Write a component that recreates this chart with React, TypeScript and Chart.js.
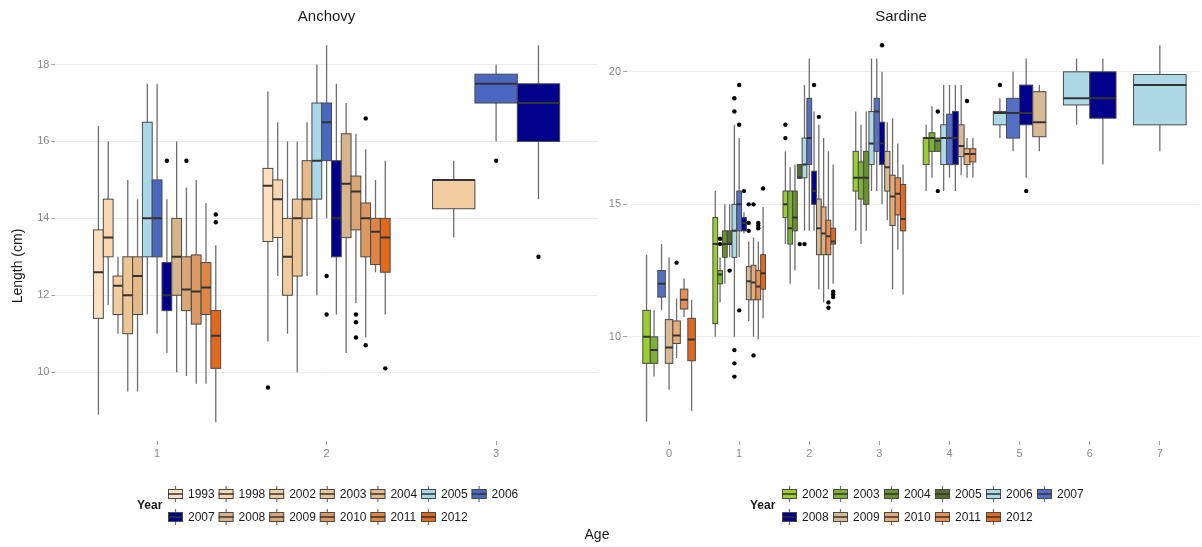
import React, { useEffect, useRef } from 'react';
import { Chart, registerables } from 'chart.js';

Chart.register(...registerables);

// [year, lower whisker, Q1, median, Q3, upper whisker]
type Row = [string, number, number, number, number, number];
// [age, year, value]
type Outlier = [number, string, number];

const FONT = '"Liberation Sans", Arial, Helvetica, sans-serif';

// ---------------- Anchovy ----------------
const anchovyYears = ['1993', '1998', '2002', '2003', '2004', '2005', '2006', '2007', '2008', '2009', '2010', '2011', '2012'];
const anchovyColors = ['#FDE0C1', '#F8D6B0', '#F3CDA0', '#EEC595', '#E6BA88', '#A9D9E9', '#4B68C1', '#00008B', '#D6B48C', '#DAA675', '#DB9963', '#DE8546', '#E0691E'];
const anchovyAgeTicks = [1, 2, 3];

const anchovyAge1: Row[] = [
  ['1993', 8.9, 11.4, 12.6, 13.7, 16.4],
  ['1998', 11.75, 13.0, 13.5, 14.5, 16.0],
  ['2002', 11.0, 11.5, 12.25, 12.5, 13.0],
  ['2003', 9.5, 11.0, 12.0, 13.0, 15.0],
  ['2004', 9.5, 11.5, 12.5, 13.0, 14.5],
  ['2005', 11.5, 13.0, 14.0, 16.5, 17.5],
  ['2006', 11.0, 13.0, 14.0, 15.0, 17.5],
  ['2007', 10.5, 11.6, 12.0, 12.85, 14.5],
  ['2008', 10.0, 12.0, 13.0, 14.0, 16.0],
  ['2009', 9.9, 11.6, 12.15, 13.0, 14.8],
  ['2010', 9.7, 11.25, 12.1, 13.05, 15.0],
  ['2011', 9.7, 11.5, 12.2, 12.85, 14.4],
  ['2012', 8.7, 10.1, 10.95, 11.6, 13.3],
];
const anchovyAge2: Row[] = [
  ['1993', 10.8, 13.4, 14.85, 15.3, 17.3],
  ['1998', 12.5, 13.5, 14.5, 15.0, 16.5],
  ['2002', 11.0, 12.0, 13.0, 14.0, 16.0],
  ['2003', 10.0, 12.5, 14.0, 14.5, 16.0],
  ['2004', 12.5, 14.0, 14.5, 15.5, 16.5],
  ['2005', 12.0, 14.5, 15.5, 17.0, 18.0],
  ['2006', 14.0, 15.5, 16.5, 17.0, 18.5],
  ['2007', 11.5, 13.0, 14.0, 15.5, 17.5],
  ['2008', 10.5, 13.5, 14.9, 16.2, 17.0],
  ['2009', 11.8, 13.7, 14.7, 15.1, 16.2],
  ['2010', 10.9, 13.0, 14.0, 14.4, 15.8],
  ['2011', 12.6, 12.8, 13.65, 14.0, 15.0],
  ['2012', 11.5, 12.6, 13.5, 14.0, 15.5],
];
const anchovyAge3: Row[] = [
  ['2002', 13.5, 14.25, 15.0, 15.0, 15.5],
  ['2006', 16.0, 17.0, 17.5, 17.75, 18.0],
  ['2007', 14.5, 16.0, 17.0, 17.5, 18.5],
];
const anchovyOutliers: Outlier[] = [
  [1, '2007', 15.5], [1, '2009', 15.5], [1, '2012', 14.1], [1, '2012', 13.9],
  [2, '1993', 9.6], [2, '2006', 12.5], [2, '2006', 11.5],
  [2, '2009', 11.5], [2, '2009', 11.3], [2, '2009', 10.9],
  [2, '2010', 16.6], [2, '2010', 10.7], [2, '2012', 10.1],
  [3, '2006', 15.5], [3, '2007', 13.0],
];

// ---------------- Sardine ----------------
const sardineYears = ['2002', '2003', '2004', '2005', '2006', '2007', '2008', '2009', '2010', '2011', '2012'];
const sardineColors = ['#9ACD32', '#7DB03A', '#6A8F2E', '#556B2F', '#ADD8E6', '#5470C6', '#00008B', '#D8BA96', '#E5AD78', '#E78F55', '#E06A22'];
const sardineAgeTicks = [0, 1, 2, 3, 4, 5, 6, 7];

const sardineAge0: Row[] = [
  ['2002', 6.8, 9.0, 10.0, 11.0, 13.1],
  ['2003', 8.5, 9.0, 9.5, 10.0, 11.0],
  ['2007', 11.0, 11.5, 12.0, 12.5, 13.5],
  ['2009', 8.0, 9.0, 9.6, 10.65, 13.0],
  ['2010', 9.2, 9.75, 10.05, 10.6, 11.45],
  ['2011', 10.75, 11.05, 11.4, 11.8, 12.2],
  ['2012', 7.2, 9.1, 9.9, 10.7, 11.4],
];
const sardineAge1: Row[] = [
  ['2002', 10.0, 10.5, 13.5, 14.5, 15.5],
  ['2003', 11.3, 12.0, 12.35, 12.5, 13.0],
  ['2004', 12.0, 13.0, 13.5, 14.0, 15.0],
  ['2005', 13.0, 13.5, 13.5, 14.0, 15.0],
  ['2006', 10.0, 13.0, 14.0, 15.0, 18.0],
  ['2007', 13.0, 14.0, 15.0, 15.5, 17.5],
  ['2008', 13.9, 14.0, 14.3, 14.5, 14.7],
  ['2009', 10.6, 11.4, 12.1, 12.65, 13.6],
  ['2010', 10.0, 11.4, 12.05, 12.7, 13.75],
  ['2011', 9.9, 11.4, 11.9, 12.5, 13.6],
  ['2012', 10.7, 11.8, 12.4, 13.1, 14.9],
];
const sardineAge2: Row[] = [
  ['2002', 13.5, 14.5, 15.0, 15.5, 17.0],
  ['2003', 12.0, 13.5, 14.1, 15.5, 16.4],
  ['2004', 12.5, 14.0, 14.5, 15.5, 16.5],
  ['2005', 16.0, 16.0, 16.0, 16.5, 16.5],
  ['2006', 14.0, 16.0, 16.5, 17.5, 19.5],
  ['2007', 14.0, 16.5, 17.5, 19.0, 20.5],
  ['2008', 14.0, 15.0, 15.5, 16.25, 18.5],
  ['2009', 11.8, 13.1, 14.1, 15.2, 18.0],
  ['2010', 11.3, 13.1, 13.9, 14.9, 17.5],
  ['2011', 11.8, 13.1, 13.8, 14.4, 17.0],
  ['2012', 12.0, 13.5, 13.6, 14.1, 16.5],
];
const sardineAge3: Row[] = [
  ['2002', 14.0, 15.5, 16.0, 17.0, 18.5],
  ['2003', 13.5, 15.2, 16.0, 16.6, 18.0],
  ['2004', 14.0, 15.0, 16.0, 17.0, 18.5],
  ['2006', 15.5, 16.5, 17.3, 18.5, 20.5],
  ['2007', 15.5, 17.0, 18.5, 19.0, 20.5],
  ['2008', 15.0, 16.5, 17.3, 18.1, 20.0],
  ['2009', 14.4, 15.5, 16.4, 17.0, 18.1],
  ['2010', 11.8, 14.2, 15.3, 16.1, 18.25],
  ['2011', 13.3, 14.6, 15.4, 16.0, 17.3],
  ['2012', 11.6, 14.0, 14.45, 15.75, 16.5],
];
const sardineAge4: Row[] = [
  ['2002', 15.5, 16.5, 17.5, 17.5, 18.0],
  ['2003', 16.0, 17.0, 17.5, 17.7, 18.7],
  ['2004', 17.0, 17.0, 17.4, 17.5, 17.5],
  ['2006', 15.5, 16.5, 17.5, 18.0, 19.5],
  ['2007', 16.0, 16.5, 17.5, 18.4, 19.5],
  ['2008', 15.5, 16.5, 17.5, 18.5, 19.5],
  ['2009', 16.1, 16.8, 17.2, 18.0, 19.5],
  ['2010', 16.0, 16.5, 16.9, 17.1, 17.5],
  ['2011', 16.0, 16.6, 16.9, 17.1, 17.5],
];
const sardineAge5: Row[] = [
  ['2006', 17.5, 18.0, 18.45, 18.5, 19.0],
  ['2007', 17.0, 17.5, 18.45, 19.0, 20.0],
  ['2008', 16.0, 18.0, 18.45, 19.5, 20.5],
  ['2009', 17.0, 17.55, 18.1, 19.25, 19.5],
];
const sardineAge6: Row[] = [
  ['2006', 18.0, 18.75, 19.0, 20.0, 20.5],
  ['2008', 16.5, 18.25, 19.0, 20.0, 20.5],
];
const sardineAge7: Row[] = [
  ['2006', 17.0, 18.0, 19.5, 19.9, 21.0],
];
const sardineOutliers: Outlier[] = [
  [0, '2010', 12.8],
  [1, '2003', 13.7], [1, '2003', 13.5], [1, '2005', 12.5],
  [1, '2006', 19.0], [1, '2006', 18.5], [1, '2006', 9.5], [1, '2006', 9.0], [1, '2006', 8.5],
  [1, '2007', 19.5], [1, '2007', 18.0], [1, '2007', 11.0],
  [1, '2008', 15.5], [1, '2009', 15.0], [1, '2009', 14.3], [1, '2009', 14.0],
  [1, '2010', 15.0], [1, '2010', 9.3],
  [1, '2011', 14.3], [1, '2011', 14.2], [1, '2011', 14.1], [1, '2012', 15.6],
  [2, '2002', 18.0], [2, '2002', 17.5], [2, '2005', 13.5], [2, '2006', 13.5],
  [2, '2008', 19.5], [2, '2009', 18.3],
  [2, '2011', 11.3], [2, '2011', 11.1],
  [2, '2012', 11.7], [2, '2012', 11.6], [2, '2012', 11.5],
  [3, '2008', 21.0],
  [4, '2004', 18.5], [4, '2004', 15.5], [4, '2010', 18.9],
  [5, '2006', 19.5], [5, '2008', 15.5],
];

type Group = { age: number; rows: Row[] };

const anchovyGroups: Group[] = [
  { age: anchovyAgeTicks[0], rows: anchovyAge1 },
  { age: anchovyAgeTicks[1], rows: anchovyAge2 },
  { age: anchovyAgeTicks[2], rows: anchovyAge3 },
];
const sardineGroups: Group[] = [
  { age: sardineAgeTicks[0], rows: sardineAge0 },
  { age: sardineAgeTicks[1], rows: sardineAge1 },
  { age: sardineAgeTicks[2], rows: sardineAge2 },
  { age: sardineAgeTicks[3], rows: sardineAge3 },
  { age: sardineAgeTicks[4], rows: sardineAge4 },
  { age: sardineAgeTicks[5], rows: sardineAge5 },
  { age: sardineAgeTicks[6], rows: sardineAge6 },
  { age: sardineAgeTicks[7], rows: sardineAge7 },
];

// dodge like ggplot: total width 0.75 shared among the boxes present at each age
function slot(age: number, index: number, n: number) {
  const w = 0.75 / n;
  return { c: age - 0.375 + w * (index + 0.5), w };
}

function outlierPoints(groups: Group[], outliers: Outlier[]) {
  return outliers.map(([age, yr, v]) => {
    const g = groups.find((gg) => gg.age === age)!;
    const i = g.rows.findIndex((r) => r[0] === yr);
    return { x: slot(age, i, g.rows.length).c, y: v };
  });
}

function boxPlugin(groups: Group[], years: string[], colors: string[]) {
  return {
    id: 'boxes',
    beforeDatasetsDraw(chart: any) {
      const { ctx, chartArea, scales } = chart;
      const xs = scales.x;
      const ys = scales.y;
      ctx.save();
      ctx.beginPath();
      ctx.rect(chartArea.left, chartArea.top, chartArea.right - chartArea.left, chartArea.bottom - chartArea.top);
      ctx.clip();
      groups.forEach((g) => {
        g.rows.forEach((r, i) => {
          const { c, w } = slot(g.age, i, g.rows.length);
          const xl = xs.getPixelForValue(c - w / 2);
          const xr = xs.getPixelForValue(c + w / 2);
          const xc = xs.getPixelForValue(c);
          const [yr, lo, q1, med, q3, hi] = r;
          const col = colors[years.indexOf(yr)];
          ctx.strokeStyle = '#6e6e6e';
          ctx.lineWidth = 1.3;
          ctx.beginPath();
          ctx.moveTo(xc, ys.getPixelForValue(hi));
          ctx.lineTo(xc, ys.getPixelForValue(lo));
          ctx.stroke();
          const yt = ys.getPixelForValue(q3);
          const yb = ys.getPixelForValue(q1);
          ctx.fillStyle = col;
          ctx.fillRect(xl, yt, xr - xl, yb - yt);
          ctx.strokeStyle = '#4a4a4a';
          ctx.lineWidth = 1;
          ctx.strokeRect(xl, yt, xr - xl, yb - yt);
          const ym = ys.getPixelForValue(med);
          ctx.strokeStyle = '#333333';
          ctx.lineWidth = 2;
          ctx.beginPath();
          ctx.moveTo(xl, ym);
          ctx.lineTo(xr, ym);
          ctx.stroke();
        });
      });
      ctx.restore();
    },
  };
}

type LegendPos = { yearX: number; yearY: number; x0: number; pitch: number; perRow: number; rowY: number[] };

function legendPlugin(years: string[], colors: string[], pos: LegendPos) {
  return {
    id: 'yearLegend',
    afterDraw(chart: any) {
      const { ctx } = chart;
      ctx.save();
      ctx.font = `bold 12px ${FONT}`;
      ctx.fillStyle = '#1a1a1a';
      ctx.textAlign = 'left';
      ctx.textBaseline = 'middle';
      ctx.fillText('Year', pos.yearX, pos.yearY);
      years.forEach((yr, i) => {
        const col = i % pos.perRow;
        const row = Math.floor(i / pos.perRow);
        const ix = pos.x0 + col * pos.pitch;
        const iy = pos.rowY[row];
        const bw = 15;
        ctx.strokeStyle = '#6e6e6e';
        ctx.lineWidth = 1.2;
        ctx.beginPath();
        ctx.moveTo(ix + bw / 2, iy - 8);
        ctx.lineTo(ix + bw / 2, iy + 8);
        ctx.stroke();
        ctx.fillStyle = colors[i];
        ctx.fillRect(ix, iy - 5, bw, 10);
        ctx.strokeStyle = '#4a4a4a';
        ctx.lineWidth = 1;
        ctx.strokeRect(ix + 0.5, iy - 4.5, bw - 1, 9);
        ctx.strokeStyle = '#333';
        ctx.lineWidth = 1.5;
        ctx.beginPath();
        ctx.moveTo(ix, iy);
        ctx.lineTo(ix + bw, iy);
        ctx.stroke();
        ctx.font = `12px ${FONT}`;
        ctx.fillStyle = '#1a1a1a';
        ctx.fillText(yr, ix + bw + 5, iy + 0.5);
      });
      ctx.restore();
    },
  };
}

const yTitlePlugin = {
  id: 'yTitle',
  afterDraw(chart: any) {
    const { ctx } = chart;
    ctx.save();
    ctx.translate(18, 266);
    ctx.rotate(-Math.PI / 2);
    ctx.font = `14px ${FONT}`;
    ctx.fillStyle = '#1a1a1a';
    ctx.textAlign = 'center';
    ctx.textBaseline = 'middle';
    ctx.fillText('Length (cm)', 0, 0);
    ctx.restore();
  },
};

function makeConfig(opts: {
  title: string;
  titleFull: boolean;
  groups: Group[];
  outliers: Outlier[];
  years: string[];
  colors: string[];
  xMin: number;
  xMax: number;
  yMin: number;
  yMax: number;
  yStep: number;
  yWidth: number;
  padRight: number;
  legend: LegendPos;
  extra: any[];
}): any {
  const tickGrey = '#8a8a8a';
  return {
    type: 'scatter',
    data: {
      datasets: [
        {
          data: outlierPoints(opts.groups, opts.outliers),
          pointRadius: 2.2,
          pointBackgroundColor: '#000',
          pointBorderWidth: 0,
          pointHoverRadius: 2.2,
        },
      ],
    },
    options: {
      animation: false,
      responsive: false,
      maintainAspectRatio: false,
      events: [],
      layout: { padding: { left: 0, right: opts.padRight, top: 0, bottom: 86 } },
      plugins: {
        legend: { display: false },
        tooltip: { enabled: false },
        title: {
          display: true,
          text: opts.title,
          fullSize: opts.titleFull,
          color: '#1a1a1a',
          font: { size: 15, family: FONT, weight: 'normal', lineHeight: 1.2 },
          padding: { top: 8, bottom: 0.5 },
        },
      },
      scales: {
        x: {
          type: 'linear',
          min: opts.xMin,
          max: opts.xMax,
          ticks: { stepSize: 1, includeBounds: false, color: tickGrey, font: { size: 11, family: FONT }, padding: 2 },
          grid: { drawOnChartArea: false, drawTicks: true, tickLength: 4, color: '#a0a0a0', tickColor: '#a0a0a0' },
          border: { display: false },
          afterFit: (s: any) => {
            s.height = 20;
          },
        },
        y: {
          type: 'linear',
          min: opts.yMin,
          max: opts.yMax,
          ticks: { stepSize: opts.yStep, includeBounds: false, color: tickGrey, font: { size: 11, family: FONT }, padding: 2 },
          grid: { color: '#ececec', tickColor: '#a0a0a0', tickLength: 4, lineWidth: 1 },
          border: { display: false },
          afterFit: (s: any) => {
            s.width = opts.yWidth;
          },
        },
      },
    },
    plugins: [boxPlugin(opts.groups, opts.years, opts.colors), legendPlugin(opts.years, opts.colors, opts.legend), ...opts.extra],
  };
}

export default function App() {
  const leftRef = useRef<HTMLCanvasElement>(null);
  const rightRef = useRef<HTMLCanvasElement>(null);

  useEffect(() => {
    const left = new Chart(
      leftRef.current!,
      makeConfig({
        title: 'Anchovy',
        titleFull: false,
        groups: anchovyGroups,
        outliers: anchovyOutliers,
        years: anchovyYears,
        colors: anchovyColors,
        xMin: 0.4,
        xMax: 3.6,
        yMin: 8.21,
        yMax: 18.99,
        yStep: 2,
        yWidth: 55.4,
        padRight: 1,
        legend: { yearX: 137, yearY: 506, x0: 168, pitch: 50.6, perRow: 7, rowY: [494, 517] },
        extra: [yTitlePlugin],
      })
    );
    const right = new Chart(
      rightRef.current!,
      makeConfig({
        title: 'Sardine',
        titleFull: true,
        groups: sardineGroups,
        outliers: sardineOutliers,
        years: sardineYears,
        colors: sardineColors,
        xMin: -0.6,
        xMax: 7.57,
        yMin: 6.07,
        yMax: 21.71,
        yStep: 5,
        yWidth: 27,
        padRight: 0,
        legend: { yearX: 150, yearY: 506, x0: 182, pitch: 51, perRow: 6, rowY: [494, 517] },
        extra: [],
      })
    );
    return () => {
      left.destroy();
      right.destroy();
    };
  }, []);

  return (
    <div style={{ position: 'fixed', left: 0, top: 0, width: 1202, height: 547, background: '#ffffff', overflow: 'hidden' }}>
      <canvas ref={leftRef} width={600} height={547} style={{ position: 'absolute', left: 0, top: 0, width: 600, height: 547 }} />
      <canvas ref={rightRef} width={602} height={547} style={{ position: 'absolute', left: 600, top: 0, width: 602, height: 547 }} />
      <div
        style={{
          position: 'absolute',
          left: 0,
          top: 526,
          width: 1194,
          textAlign: 'center',
          fontFamily: FONT,
          fontSize: 14,
          lineHeight: '16px',
          color: '#1a1a1a',
        }}
      >
        Age
      </div>
    </div>
  );
}
